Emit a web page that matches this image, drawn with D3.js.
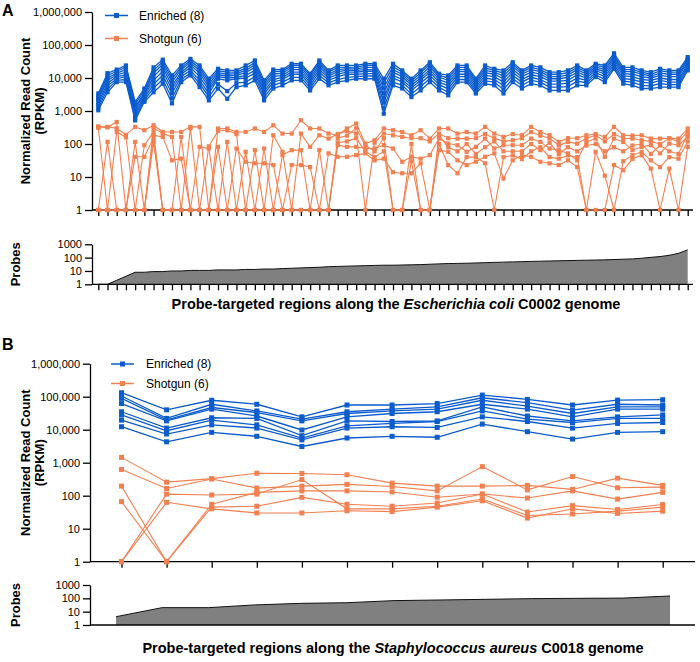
<!DOCTYPE html>
<html>
<head>
<meta charset="utf-8">
<script src="https://cdn.jsdelivr.net/npm/d3@7"></script>
<style>
body { margin: 0; background: #fff; }
text { font-family: "Liberation Sans", Arial, Helvetica, sans-serif; }
</style>
</head>
<body>
<div id="chart"></div>
<script>
// ---- data: panel A, E. coli C0002 (65 probe-targeted regions) ----
var ecoliEnriched = [
  [3400,14000,18000,24000,1900,4800,21000,36000,12000,24000,38000,24000,9500,19000,17000,17000,24000,34000,8500,18000,18000,27000,27000,13500,34000,17000,24000,24000,24000,27000,27000,9500,27000,17000,9500,17000,30000,13500,12000,24000,24000,9500,24000,19000,17000,30000,17000,24000,21000,15000,15000,17000,24000,17000,27000,24000,56000,21000,21000,17000,15000,19000,17000,17000,43000],
  [2900,12000,16000,21000,1600,4200,17000,31000,9500,21000,33000,20000,8000,16500,15000,15000,20000,29000,7200,15500,16000,24000,24000,12000,30000,15000,21000,21000,21500,24000,24000,7000,22000,15000,8200,14500,26000,12000,10000,21000,21000,8300,20000,17000,14000,26000,15000,21000,18000,13000,13000,14500,21000,15000,24000,21000,48000,18000,18000,15000,13000,16500,15000,15000,38000],
  [2500,10000,14000,18000,1300,3600,14000,26000,7500,18000,29000,17000,6500,14500,13000,13500,17000,25000,6000,13000,14000,21000,21000,10000,26000,13000,18000,19000,19000,21000,21000,5000,18000,13000,7000,12000,22000,10500,8500,18000,18000,7200,17000,15000,11500,22000,13000,18000,15500,11000,11000,12500,18000,13000,21500,18000,42000,15500,15500,13000,11500,14000,13000,13000,34000],
  [2200,8500,12500,15000,1100,3200,11000,21000,5800,15000,25000,14000,5300,12500,11500,12000,14500,21000,5000,11000,12000,18000,18000,8500,22000,11500,15500,17000,17000,18000,18000,3500,15000,11000,6000,10000,18000,9000,7000,15500,15500,6200,14500,13000,9500,18000,11000,15000,13000,9500,9500,10500,15000,11500,19000,15500,36000,13500,13000,11000,10000,12000,11000,11000,30000],
  [1800,7000,11000,12500,900,2800,8500,16000,4500,13000,21000,11000,4300,11000,10000,10500,12000,17000,4000,9000,10500,15000,15000,7200,18000,10000,13000,15000,15000,16000,16000,2500,12000,9000,5000,8500,15000,7500,5800,13000,13000,5300,12000,11000,7500,15000,9000,12500,11000,8000,8000,8500,12500,10000,17000,13000,31000,11500,11000,9000,8500,10000,9000,9000,26000],
  [1500,5800,9500,11000,750,2400,6500,12000,3400,11000,17000,8500,3400,9500,8500,9500,10000,14000,3300,7500,9000,13000,13000,6000,15000,8500,11000,13000,13000,13500,13500,1800,10000,7500,4200,7000,12000,6300,4700,11000,11000,4500,10000,9000,6000,12000,7500,10500,9000,6500,6500,7000,10000,8500,14500,11000,26000,9500,9000,7500,7000,8500,7500,7500,23000],
  [1250,4600,8500,9000,620,2100,5000,9000,2400,9000,14000,6800,2700,6500,4000,7000,7500,11000,2600,6000,7500,10500,10500,5000,12000,7200,9000,10500,11000,11500,11500,1200,7500,6000,3300,5500,9500,5200,3700,9000,9000,3900,8200,7500,4500,9500,6000,8500,7500,5300,5300,5500,8000,7200,12500,9000,22000,8000,7500,6000,5800,6800,6300,6300,20000],
  [1050,3700,7500,7500,520,1900,3700,6700,1700,7500,12000,5300,2100,4800,2350,5300,6000,8500,2100,4800,6000,8500,8500,4200,9500,6000,7500,8500,9500,9500,9500,830,6000,4800,2650,4200,7500,4200,3000,7500,7500,3400,6700,6000,3400,7500,4800,6700,6000,4200,4200,4200,6000,6000,10700,7500,19000,6700,6000,4800,4800,5300,5300,5300,17000]
];
var ecoliShotgun = [
  [340,330,300,190,330,262,370,232,232,232,330,330,1,295,295,232,232,295,232,370,207,207,525,295,295,207,184,295,415,103,130,295,262,232,184,262,146,295,295,207,232,207,330,207,164,200,184,330,232,184,116,150,150,184,200,164,330,184,180,184,146,146,150,146,295],
  [330,320,465,1,116,1,300,210,164,1,300,1,85,250,260,200,1,65,1,184,58,1,207,82,184,146,200,250,207,1,110,207,184,164,150,150,120,207,150,146,146,150,200,150,120,130,150,230,180,150,90,116,103,150,184,120,200,150,146,130,120,100,146,120,232],
  [310,1,232,160,1,92,230,1,1,164,1,82,73,1,116,1,58,1,73,1,46,65,65,1,65,1,92,82,82,73,73,92,73,29,41,36,46,146,103,92,58,82,146,73,92,92,92,146,116,73,65,52,32,116,146,41,146,116,65,82,92,52,103,92,164],
  [1,116,1,1,1,1,184,164,32,36,1,1,1,82,1,73,29,26,26,23,1,23,23,20,1,52,41,41,46,52,32,36,14,13,13,26,1,65,58,32,23,29,41,52,9,32,46,41,29,26,23,32,20,1,1,1,23,16,35,46,18,1,18,1,82],
  [1,1,1,1,41,41,150,1,1,1,1,1,1,1,1,1,1,1,1,1,1,1,1,1,1,1,150,180,300,90,60,150,1,1,100,1,1,180,80,60,100,50,80,120,60,60,60,100,65,110,50,80,60,90,100,60,80,60,90,100,50,90,60,50,200],
  [1,1,1,1,1,1,116,1,1,1,1,1,1,1,1,1,1,1,1,1,1,1,1,1,1,1,110,120,150,60,40,60,1,1,30,1,1,100,23,13,40,40,26,1,40,45,35,60,80,40,36,45,40,1,58,11,1,30,46,58,32,20,40,36,120]
];
var ecoliProbes = [1,1,2,4,8,8,9,9,10,10,11,11,11,12,12,12,13,13,14,14,15,16,17,18,19,21,22,23,24,25,26,27,27,28,29,30,32,34,36,37,38,40,42,44,46,48,50,52,54,56,58,60,62,64,66,68,72,76,80,90,105,120,150,210,380];

// ---- data: panel B, S. aureus C0018 (13 probe-targeted regions) ----
var saureusEnriched = [
  [132000,40000,78000,59000,24500,56000,56000,62000,112000,83000,56000,79000,81000],
  [105000,22000,59000,37000,21000,35000,42000,49000,93000,66000,39000,59000,56000],
  [89000,20000,47000,33000,18500,31000,37000,42000,78000,52000,31000,49000,49000],
  [62000,18500,42000,26000,9800,24500,31000,35000,59000,42000,24500,42000,42000],
  [35000,11200,23000,22000,6600,18500,17700,18500,49000,26000,18500,24500,28000],
  [28000,9300,19500,14000,5600,13000,15500,17700,37000,21000,16500,22000,22000],
  [19500,7400,14000,11200,4900,11200,12300,11700,24500,17700,11200,15500,16500],
  [12300,4300,8300,6300,3100,5600,6300,5900,14800,8700,5200,8300,8700]
];
var saureusShotgun = [
  [1450,257,330,480,470,430,240,195,195,205,155,340,205],
  [620,165,320,170,195,220,190,140,760,150,380,174,182],
  [195,1,55,126,140,140,130,90,112,85,140,79,126],
  [66,1,45,48,89,55,48,60,112,32,50,38,54],
  [1,112,105,112,310,40,40,48,79,25,28,34,45],
  [1,63,40,30,30,35,33,45,70,21,40,29,34]
];
var saureusProbes = [4.2,20,20,32,42,47,67,75,84,95,100,105,150];

var countTicks = [1,10,100,1000,10000,100000,1000000];
var probeTicks = [1,10,100,1000];
var legendLabels = ["Enriched (8)", "Shotgun (6)"];

var blue = "#0b5ccf", orange = "#f47f4f", gray = "#808080";

var svg = d3.select("#chart").append("svg")
  .attr("width", 700)
  .attr("height", 662);

var fmtCount = d3.format(",");

function styleAxis(g) {
  g.selectAll("path, line").attr("stroke", "#000").attr("stroke-width", 1.3);
  g.selectAll("text").style("font-size", "11px").attr("fill", "#000");
}

function drawSeries(g, data, x, y, color, size, lw) {
  var line = d3.line()
    .x(function(d, i) { return x(i); })
    .y(function(d) { return y(d); });
  data.forEach(function(s) {
    g.append("path")
      .attr("d", line(s))
      .attr("fill", "none")
      .attr("stroke", color)
      .attr("stroke-width", lw);
    g.selectAll(null).data(s).enter().append("rect")
      .attr("x", function(d, i) { return x(i) - size / 2; })
      .attr("y", function(d) { return y(d) - size / 2; })
      .attr("width", size)
      .attr("height", size)
      .attr("fill", color);
  });
}

function drawLegend(g, lx, ly, gap, textX) {
  [blue, orange].forEach(function(c, k) {
    var yy = ly + k * gap;
    g.append("line").attr("x1", lx).attr("x2", lx + 23).attr("y1", yy).attr("y2", yy)
      .attr("stroke", c).attr("stroke-width", 1.5);
    g.append("rect").attr("x", lx + 11.5 - 2.5).attr("y", yy - 2.5).attr("width", 5).attr("height", 5).attr("fill", c);
    g.append("text").attr("x", textX).attr("y", yy + 4.3).text(legendLabels[k])
      .style("font-size", "12px");
  });
}

function drawPanel(p) {
  var g = svg.append("g");
  var n = p.enriched[0].length;
  var x = d3.scalePoint().domain(d3.range(n)).range(p.xRange);
  var y = d3.scaleLog().domain([1, 1e6]).range([p.yBottom, p.yBottom - 198]);

  // main y axis
  g.append("g").attr("transform", "translate(" + p.axisX + ",0)")
    .call(d3.axisLeft(y).tickValues(countTicks).tickFormat(fmtCount).tickSize(7).tickSizeOuter(0))
    .call(styleAxis);
  // main x axis
  var xa = g.append("g").attr("transform", "translate(0," + p.yBottom + ")")
    .call(d3.axisBottom(x).tickFormat("").tickSize(6).tickSizeOuter(0));
  xa.select(".domain").remove();
  xa.append("line").attr("x1", p.axisX).attr("x2", p.axisEnd);
  styleAxis(xa);

  drawSeries(g, p.shotgun, x, y, orange, p.marker, 1.1);
  drawSeries(g, p.enriched, x, y, blue, p.marker, 1.3);
  drawLegend(g, p.legX, p.legY, p.legGap, p.legTextX);

  // probes strip
  var px = d3.scalePoint().domain(d3.range(n)).range(p.probeXRange);
  var py = d3.scaleLog().domain([1, 1000]).range([p.probeBottom, p.probeBottom - 40]);
  var area = d3.area()
    .x(function(d, i) { return px(i); })
    .y0(py(1))
    .y1(function(d) { return py(d); });
  var top = d3.line()
    .x(function(d, i) { return px(i); })
    .y(function(d) { return py(d); });
  g.append("path").attr("d", area(p.probes)).attr("fill", gray);
  g.append("path").attr("d", top(p.probes)).attr("fill", "none").attr("stroke", "#111").attr("stroke-width", 1);

  g.append("g").attr("transform", "translate(" + p.axisX + ",0)")
    .call(d3.axisLeft(py).tickValues(probeTicks).tickFormat(d3.format("d")).tickSize(7).tickSizeOuter(0))
    .call(styleAxis);
  var pa = g.append("g").attr("transform", "translate(0," + p.probeBottom + ")");
  if (p.probeTicks) {
    pa.call(d3.axisBottom(px).tickFormat("").tickSize(6).tickSizeOuter(0));
    pa.select(".domain").remove();
  }
  pa.append("line").attr("x1", p.axisX).attr("x2", p.axisEnd);
  styleAxis(pa);

  // titles
  g.append("text").attr("x", 2).attr("y", p.letterY).text(p.letter)
    .style("font-size", "16px").style("font-weight", "bold");
  var yl = g.append("text")
    .attr("transform", "translate(30," + (p.yBottom - 99) + ") rotate(-90)")
    .attr("text-anchor", "middle")
    .style("font-size", "13px").style("font-weight", "bold");
  yl.append("tspan").attr("x", 0).attr("y", 0).text("Normalized Read Count");
  yl.append("tspan").attr("x", 0).attr("y", 14).text("(RPKM)");
  g.append("text")
    .attr("transform", "translate(20," + (p.probeBottom - 20) + ") rotate(-90)")
    .attr("text-anchor", "middle")
    .style("font-size", "13px").style("font-weight", "bold")
    .text("Probes");
  var xt = g.append("text").attr("x", p.titleX).attr("y", p.titleY)
    .attr("text-anchor", "middle")
    .style("font-size", "14.5px").style("font-weight", "bold");
  xt.append("tspan").text("Probe-targeted regions along the ");
  xt.append("tspan").style("font-style", "italic").text(p.species);
  xt.append("tspan").text(" " + p.strain + " genome");
}

drawPanel({
  letter: "A", letterY: 16,
  enriched: ecoliEnriched, shotgun: ecoliShotgun, probes: ecoliProbes,
  xRange: [98.3, 687.7], probeXRange: [98.3, 687.7],
  axisX: 92, axisEnd: 693, yBottom: 210, probeBottom: 284.3,
  marker: 4.2, probeTicks: true,
  legX: 105, legY: 15.5, legGap: 23, legTextX: 139,
  titleX: 396, titleY: 309, species: "Escherichia coli", strain: "C0002"
});

drawPanel({
  letter: "B", letterY: 350,
  enriched: saureusEnriched, shotgun: saureusShotgun, probes: saureusProbes,
  xRange: [121.5, 662.7], probeXRange: [116, 670],
  axisX: 90, axisEnd: 695, yBottom: 561.7, probeBottom: 625,
  marker: 5, probeTicks: false,
  legX: 111, legY: 364, legGap: 19.5, legTextX: 146,
  titleX: 393, titleY: 653, species: "Staphylococcus aureus", strain: "C0018"
});
</script>
</body>
</html>
